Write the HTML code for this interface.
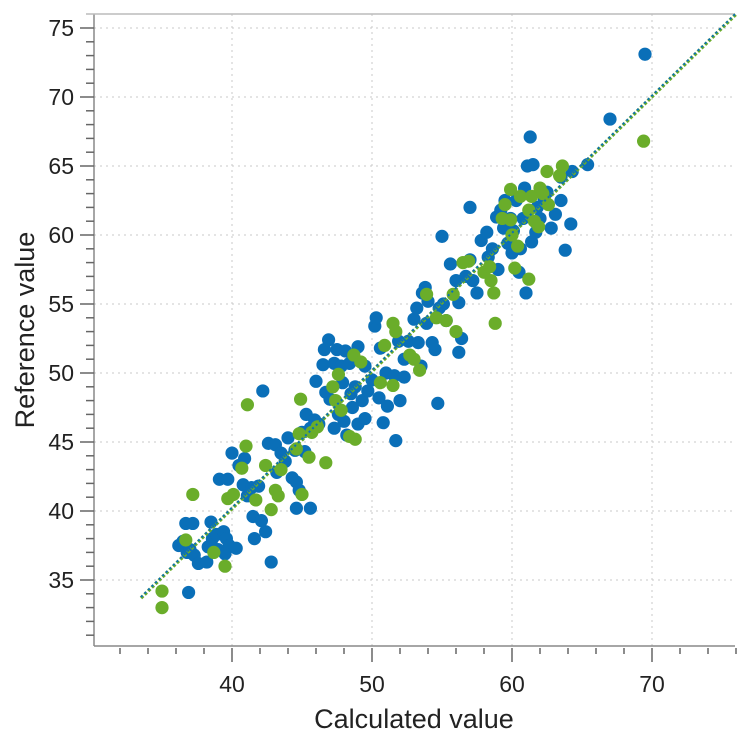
<!DOCTYPE html>
<html><head><meta charset="utf-8"><style>
body{margin:0;background:#fff;width:750px;height:750px;overflow:hidden}
svg{display:block;font-family:"Liberation Sans",sans-serif}
</style></head><body>
<svg id="chart" width="750" height="750"></svg>
<script>
const xTicks=[40,50,60,70];
const yTicks=[35,40,45,50,55,60,65,70,75];
const fitLine=[[33.5,33.7],[76,76]];
const blue=[[36.2,37.5],[36.5,37.8],[36.7,39.1],[36.8,37.0],[37.2,39.1],[37.0,37.2],[37.3,36.8],[37.6,36.2],[36.9,34.1],[38.3,37.4],[38.6,38.0],[38.9,38.3],[38.5,39.2],[39.0,37.2],[39.4,38.5],[39.6,38.0],[39.8,37.5],[39.5,36.9],[40.3,37.3],[39.1,42.3],[39.7,42.3],[40.0,44.2],[40.5,43.3],[40.9,43.8],[41.1,41.1],[40.8,41.9],[41.4,41.7],[41.9,41.8],[41.5,39.6],[42.1,39.3],[42.4,38.5],[42.8,36.3],[42.2,48.7],[42.6,44.9],[43.1,44.8],[43.5,44.2],[44.0,45.3],[43.8,43.6],[44.3,42.4],[44.6,42.1],[44.6,40.2],[45.6,40.2],[44.5,44.4],[45.0,45.7],[45.3,47.0],[45.6,46.0],[45.2,44.3],[45.9,46.6],[46.2,46.3],[46.0,49.4],[46.5,50.6],[46.7,48.6],[47.0,48.1],[46.6,51.7],[46.9,52.4],[47.3,50.7],[47.8,50.5],[47.5,51.7],[48.1,51.6],[48.4,50.7],[47.6,47.0],[48.0,46.5],[47.3,46.0],[47.9,49.3],[48.5,48.5],[48.8,49.0],[48.6,47.5],[49.0,46.3],[49.3,48.0],[49.0,51.9],[49.5,50.5],[49.7,48.7],[49.5,46.7],[50.2,53.4],[50.3,54.0],[50.6,51.8],[50.0,49.5],[50.5,48.2],[50.8,46.4],[51.1,47.6],[51.7,45.1],[51.0,50.0],[51.6,49.8],[51.9,52.3],[52.3,51.0],[52.6,52.3],[53.0,53.9],[53.2,54.7],[53.6,55.8],[53.8,56.2],[53.3,52.2],[53.9,53.6],[54.3,52.2],[54.5,51.7],[54.0,55.2],[54.7,47.8],[54.8,54.7],[55.1,55.0],[55.3,53.8],[55.0,59.9],[55.6,57.9],[56.0,56.7],[56.2,55.1],[56.4,52.5],[56.2,51.5],[56.7,57.0],[57.0,58.2],[57.2,56.7],[57.5,55.8],[57.0,62.0],[57.8,59.6],[58.2,60.2],[58.3,58.4],[58.6,59.0],[58.9,61.3],[59.0,57.5],[59.2,61.8],[59.4,60.5],[59.7,59.4],[59.9,61.2],[60.1,60.3],[60.3,62.5],[60.0,58.7],[60.6,59.0],[60.8,61.2],[60.9,63.4],[61.1,65.0],[61.3,67.1],[61.5,65.1],[61.0,55.8],[61.4,59.5],[61.7,60.2],[62.0,61.2],[62.3,62.5],[62.5,63.1],[62.8,60.5],[63.1,61.5],[63.5,62.5],[63.8,58.9],[64.2,60.8],[63.5,64.2],[64.3,64.6],[65.4,65.1],[67.0,68.4],[69.5,73.1],[52.3,49.7],[52.0,48.0],[53.5,50.5],[48.2,45.5],[44.8,41.5],[43.2,42.8],[41.6,38.0],[38.2,36.3],[60.5,57.3],[61.8,62.0],[59.5,62.5]];
const green=[[35.0,34.2],[35.0,33.0],[37.2,41.2],[36.7,37.9],[38.7,37.0],[39.5,36.0],[39.7,40.9],[40.1,41.2],[40.7,43.1],[41.0,44.7],[41.1,47.7],[41.7,40.8],[42.4,43.3],[42.8,40.1],[43.1,41.5],[43.5,43.0],[43.3,41.1],[44.6,44.5],[44.8,45.6],[45.5,43.9],[45.7,45.7],[44.9,48.1],[46.1,46.1],[47.6,49.9],[47.2,49.0],[47.4,48.0],[47.8,47.3],[46.7,43.5],[48.4,45.4],[48.8,45.2],[48.7,51.3],[49.2,50.8],[50.9,52.0],[51.5,53.6],[51.7,53.0],[50.6,49.3],[51.5,49.1],[52.7,51.3],[53.0,51.0],[53.4,50.2],[53.9,55.7],[54.6,54.0],[55.3,53.8],[55.8,55.7],[56.0,53.0],[56.5,58.0],[56.9,58.1],[58.0,57.3],[58.5,56.7],[58.7,55.8],[58.8,53.6],[58.4,57.7],[59.3,61.2],[59.5,62.2],[59.9,61.1],[60.0,60.0],[60.4,59.2],[60.2,57.6],[59.9,63.3],[60.6,62.8],[61.2,61.8],[61.4,62.8],[61.6,61.0],[62.0,63.4],[62.2,63.0],[62.6,62.2],[61.9,60.6],[61.2,56.8],[62.5,64.6],[63.4,64.3],[63.6,65.0],[69.4,66.8],[45.0,41.2]];

const L=94,T=14,R=735,B=646;
const X=v=>92+(v-30)*14;
const Y=v=>649-(v-30)*13.8;
const svg=document.getElementById('chart');
const NS='http://www.w3.org/2000/svg';
function mk(tag,attrs,parent){const e=document.createElementNS(NS,tag);for(const k in attrs)e.setAttribute(k,attrs[k]);(parent||svg).appendChild(e);return e;}

const grid=mk('g',{});


xTicks.forEach(v=>mk('line',{x1:X(v),x2:X(v),y1:T,y2:B,stroke:'#c8c8c8','stroke-dasharray':'2,4'},grid));
yTicks.forEach(v=>mk('line',{x1:L,x2:R,y1:Y(v),y2:Y(v),stroke:'#c8c8c8','stroke-dasharray':'2,4'},grid));

const ax=mk('g',{stroke:'#888','stroke-width':1.5});


mk('line',{x1:L,x2:L,y1:T,y2:B},ax);
mk('line',{x1:L,x2:R,y1:B,y2:B},ax);
mk('line',{x1:L-8,x2:R,y1:T,y2:T,stroke:'#bbb'},ax);
for(let v=31;v<=75;v++){const maj=v%5==0;mk('line',{x1:maj?L-14:L-8,x2:L,y1:Y(v),y2:Y(v),stroke:'#666'},ax);}
for(let v=32;v<=76;v+=2){const maj=v%10==0;mk('line',{x1:X(v),x2:X(v),y1:B+2,y2:maj?B+16:B+8,stroke:'#666'},ax);}

yTicks.forEach(v=>{const t=mk('text',{x:L-20,y:Y(v)+8,'text-anchor':'end','font-size':23,fill:'#222'});t.textContent=v;
});
xTicks.forEach(v=>{const t=mk('text',{x:X(v),y:692,'text-anchor':'middle','font-size':23,fill:'#222'});t.textContent=v;
});

const xt=mk('text',{x:414,y:728,'text-anchor':'middle','font-size':27,fill:'#222'});xt.textContent='Calculated value';

const yt=mk('text',{x:0,y:0,'text-anchor':'middle','font-size':27,fill:'#222',transform:'translate(34,330) rotate(-90)'});yt.textContent='Reference value';


function series(arr,col,name){const g=mk('g',{fill:col});

arr.forEach(p=>{const c=mk('circle',{cx:X(p[0]),cy:Y(p[1]),r:6.6},g);
});}
series(blue,'#0a6fb8','calibration-series');
series(green,'#6aad2a','validation-series');

const fg=mk('g',{});

mk('line',{x1:X(fitLine[0][0]),y1:Y(fitLine[0][1]),x2:X(fitLine[1][0]),y2:Y(fitLine[1][1]),stroke:'#6aad2a','stroke-width':3.5,'stroke-dasharray':'3,2'},fg);
mk('line',{x1:X(fitLine[0][0]),y1:Y(fitLine[0][1])-1,x2:X(fitLine[1][0]),y2:Y(fitLine[1][1])-1,stroke:'#0a6fb8','stroke-width':2,'stroke-dasharray':'2,3'},fg);
</script>
</body></html>
